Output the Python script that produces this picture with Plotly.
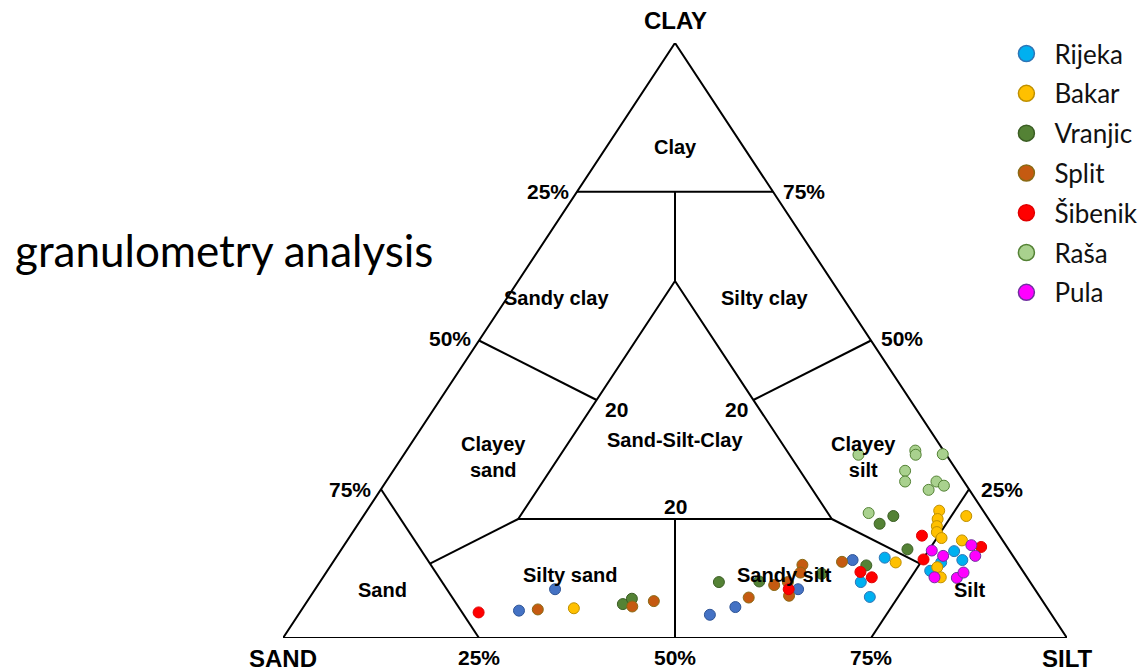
import plotly.graph_objects as go

# ---------------- data (percent sand, silt, clay) ----------------
sites = ["Rijeka", "Bakar", "Vranjic", "Split", "Šibenik", "Raša", "Pula"]

rijeka_sand = [16.5, 21.6, 21.7, 7.1, 6.8, 9.7, 11.8]
rijeka_silt = [70.0, 69.0, 71.4, 78.3, 80.1, 77.6, 76.9]
rijeka_clay = [13.5, 9.4, 6.9, 14.6, 13.1, 12.7, 11.3]

bakar_sand = [60.4, 15.5, 5.6, 6.5, 7.2, 7.7, 7.6, 2.6, 5.2, 10.6, 11.0]
bakar_silt = [34.6, 71.8, 73.0, 73.5, 74.0, 74.5, 75.6, 76.9, 78.4, 77.5, 78.8]
bakar_clay = [5.0, 12.7, 21.4, 20.0, 18.8, 17.8, 16.8, 20.5, 16.4, 11.9, 10.2]

vranjic_sand = [53.8, 52.2, 39.7, 34.5, 25.9, 19.5, 14.3, 11.9, 12.9]
vranjic_silt = [40.5, 41.2, 50.9, 56.0, 63.3, 68.3, 66.5, 67.6, 72.2]
vranjic_clay = [5.7, 6.6, 9.4, 9.5, 10.8, 12.2, 19.2, 20.5, 14.9]

split_sand = [65.1, 52.8, 49.6, 37.2, 32.9, 30.9, 27.6, 28.5, 31.9, 22.3]
split_silt = [30.1, 41.9, 44.2, 56.0, 58.2, 59.7, 60.1, 60.5, 61.0, 64.9]
split_clay = [4.8, 5.3, 6.2, 6.8, 8.9, 9.4, 12.3, 11.0, 7.1, 12.8]

sibenik_sand = [72.9, 31.4, 20.8, 19.8, 9.9, 11.7, 3.3]
sibenik_silt = [22.8, 60.4, 68.1, 70.0, 72.9, 75.1, 81.4]
sibenik_clay = [4.3, 8.2, 11.1, 10.2, 17.2, 13.2, 15.3]

rasa_sand = [11.2, 3.6, 3.9, 0.4, 6.6, 7.5, 3.5, 2.9, 5.2, 14.8]
rasa_silt = [58.0, 64.9, 65.3, 68.7, 65.3, 66.2, 70.2, 71.5, 69.9, 64.2]
rasa_clay = [30.8, 31.5, 30.8, 30.9, 28.1, 26.3, 26.3, 25.6, 24.9, 21.0]

pula_sand = [9.9, 8.9, 4.4, 4.8, 11.8, 9.0, 7.7]
pula_silt = [75.4, 77.3, 80.0, 81.4, 78.0, 80.9, 81.3]
pula_clay = [14.7, 13.8, 15.6, 13.8, 10.2, 10.1, 11.0]

# points drawn in a medium blue that has no legend entry
other_sand = [67.6, 61.2, 43.6, 39.7, 30.2, 20.8]
other_silt = [27.8, 30.6, 52.5, 55.1, 61.6, 66.1]
other_clay = [4.6, 8.2, 3.9, 5.2, 8.2, 13.1]

# Shepard classification boundaries (sand, silt, clay)
boundaries = [
    [(100, 0, 0), (0, 100, 0), (0, 0, 100), (100, 0, 0)],
    [(25, 0, 75), (0, 25, 75)],
    [(12.5, 12.5, 75), (20, 20, 60)],
    [(20, 20, 60), (60, 20, 20), (20, 60, 20), (20, 20, 60)],
    [(50, 0, 50), (40, 20, 40)],
    [(0, 50, 50), (20, 40, 40)],
    [(75, 0, 25), (75, 25, 0)],
    [(75, 12.5, 12.5), (60, 20, 20)],
    [(0, 75, 25), (25, 75, 0)],
    [(12.5, 75, 12.5), (20, 60, 20)],
    [(50, 50, 0), (40, 40, 20)],
]

region_labels = ["Clay", "Sandy clay", "Silty clay", "Clayey<br>sand", "Sand-Silt-Clay",
                 "Clayey<br>silt", "Silty sand", "Sandy silt", "Sand", "Silt"]
region_pos = [(8.75, 8.75, 82.5), (36.6, 6.3, 57.1), (10.0, 32.9, 57.1), (58.0, 11.6, 30.4),
              (33.4, 33.3, 33.3), (10.8, 58.8, 30.4), (58.1, 31.3, 10.6), (30.7, 58.7, 10.6),
              (83.2, 8.7, 8.1), (8.4, 83.5, 8.1)]

fills = ["#00B0F0", "#FFC000", "#548235", "#C55A11", "#FF0000", "#A9D18E", "#FF00FF"]
edges = ["#2E75B6", "#BF9000", "#3B5E24", "#8A6A14", "#E00000", "#548235", "#7030A0"]
other_fill, other_edge = "#4472C4", "#2F5597"


def to_xy(silt, clay):
    return [(s + c / 2) / 100 for s, c in zip(silt, clay)], [c / 100 for c in clay]


fig = go.Figure()

for seg in boundaries:
    xs, ys = to_xy([p[1] for p in seg], [p[2] for p in seg])
    fig.add_trace(go.Scatter(x=xs, y=ys, mode="lines", line=dict(color="black", width=2),
                             hoverinfo="skip", showlegend=False, cliponaxis=False))

series = [
    (rijeka_sand, rijeka_silt, rijeka_clay),
    (bakar_sand, bakar_silt, bakar_clay),
    (vranjic_sand, vranjic_silt, vranjic_clay),
    (split_sand, split_silt, split_clay),
    (sibenik_sand, sibenik_silt, sibenik_clay),
    (rasa_sand, rasa_silt, rasa_clay),
    (pula_sand, pula_silt, pula_clay),
]

xo, yo = to_xy(other_silt, other_clay)
fig.add_trace(go.Scatter(x=xo, y=yo, mode="markers", showlegend=False, cliponaxis=False,
                         marker=dict(size=11, color=other_fill, line=dict(color=other_edge, width=1))))

for name, (sa, si, cl), fc, ec in zip(sites, series, fills, edges):
    xs, ys = to_xy(si, cl)
    fig.add_trace(go.Scatter(x=xs, y=ys, mode="markers", name=name, showlegend=False,
                             cliponaxis=False,
                             customdata=list(zip(sa, si, cl)),
                             hovertemplate="Sand %{customdata[0]}%<br>Silt %{customdata[1]}%<br>Clay %{customdata[2]}%<extra>" + name + "</extra>",
                             marker=dict(size=11, color=fc, line=dict(color=ec, width=1))))

# legend entries
for i, (name, fc, ec) in enumerate(zip(sites, fills, edges)):
    fig.add_trace(go.Scatter(x=[None], y=[None], mode="markers", name=name, legendgroup=name,
                             marker=dict(size=16, color=fc, line=dict(color=ec, width=1.5))))

bold = dict(family="Liberation Sans, Arial, sans-serif", size=20, color="black", weight="bold")
ann = []
for lab, (sa, si, cl) in zip(region_labels, region_pos):
    x, y = to_xy([si], [cl])
    ann.append(dict(x=x[0], y=y[0], text=lab, showarrow=False, font=bold,
                    xanchor="center", yanchor="middle"))

pct = dict(family="Liberation Sans, Arial, sans-serif", size=21, color="black", weight="bold")
# percent labels: (silt, clay, text, xanchor, xshift, yshift)
pct_labels = [
    (0, 75, "25%", "right", -6, 0), (25, 75, "75%", "left", 8, 0),
    (0, 50, "50%", "right", -6, 2), (50, 50, "50%", "left", 8, 2),
    (0, 25, "75%", "right", -8, 0), (75, 25, "25%", "left", 10, 0),
    (25, 0, "25%", "center", 0, -19), (50, 0, "50%", "center", 0, -19),
    (75, 0, "75%", "center", 0, -19),
    (20, 40, "20", "left", 6, -9), (40, 40, "20", "right", -3, -9),
    (40, 20, "20", "center", 0, 13),
]
for si, cl, t, xa, xs_, ys_ in pct_labels:
    x, y = to_xy([si], [cl])
    ann.append(dict(x=x[0], y=y[0], text=t, showarrow=False, font=pct, xanchor=xa,
                    yanchor="middle", xshift=xs_, yshift=ys_))

corner = dict(family="Liberation Sans, Arial, sans-serif", size=24, color="black", weight="bold")
for si, cl, t, ys_ in [(0, 0, "SAND", -20), (100, 0, "SILT", -20), (0, 100, "CLAY", 23)]:
    x, y = to_xy([si], [cl])
    ann.append(dict(x=x[0], y=y[0], text=t, showarrow=False, font=corner,
                    xanchor="center", yanchor="middle", yshift=ys_))

ann.append(dict(x=-0.345, y=0.652, xref="paper", yref="paper", text="granulometry analysis",
                showarrow=False, xanchor="left", yanchor="middle",
                font=dict(family="Lato, Open Sans, sans-serif", size=44, color="black")))

# the page body has an 8px margin: keep the figure inside the 1147x670 window
fig.update_layout(
    width=1139, height=662,
    margin=dict(l=275, r=80, t=35, b=32, pad=0, autoexpand=False),
    paper_bgcolor="white", plot_bgcolor="white",
    xaxis=dict(range=[0, 1], visible=False, fixedrange=True),
    yaxis=dict(range=[0, 1], visible=False, fixedrange=True),
    annotations=ann,
    showlegend=True,
    legend=dict(x=0.9125, y=1.0216, xanchor="left", yanchor="top",
                font=dict(family="Lato, Open Sans, sans-serif", size=26, color="#111111"),
                bgcolor="rgba(0,0,0,0)", tracegroupgap=3.0, traceorder="grouped",
                itemwidth=46),
)

fig.write_html("out.html")
